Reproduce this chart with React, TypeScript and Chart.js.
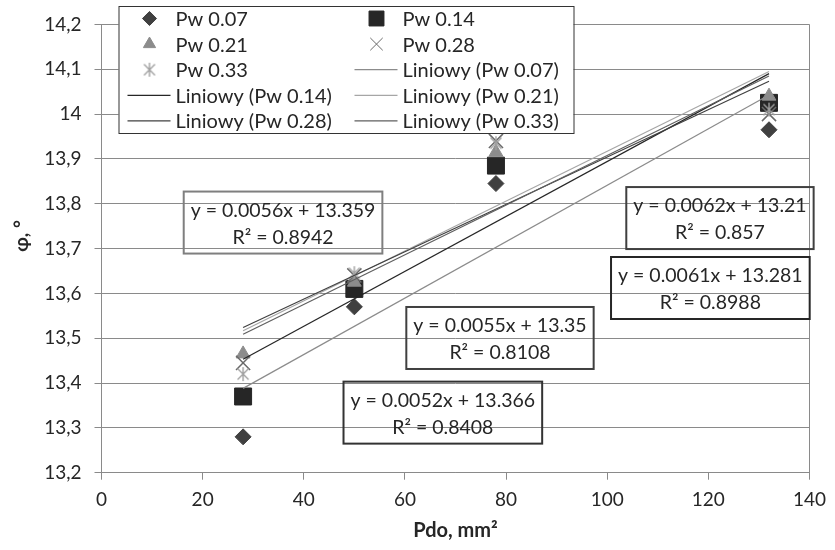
import React, { useEffect, useRef } from 'react';
import { Chart, registerables } from 'chart.js';
import { drawPoint } from 'chart.js/helpers';

Chart.register(...registerables);

// ---- data ----
const xValues = [28, 50, 78, 132];
const seriesLabels = ['Pw 0.07', 'Pw 0.14', 'Pw 0.21', 'Pw 0.28', 'Pw 0.33'];
const pw007 = [13.28, 13.57, 13.845, 13.965];
const pw014 = [13.37, 13.61, 13.885, 14.025];
const pw021 = [13.465, 13.625, 13.915, 14.04];
const pw028 = [13.445, 13.64, 13.94, 14.0];
const pw033 = [13.42, 13.645, 13.935, 14.01];
const seriesValues = [pw007, pw014, pw021, pw028, pw033];

const equationTexts = [
  'y = 0.0062x + 13.21',
  'y = 0.0061x + 13.281',
  'y = 0.0056x + 13.359',
  'y = 0.0052x + 13.366',
  'y = 0.0055x + 13.35',
];
const r2Texts = ['R² = 0.857', 'R² = 0.8988', 'R² = 0.8942', 'R² = 0.8408', 'R² = 0.8108'];

const xTitle = 'Pdo, mm²';
const yTitle = 'φ, °';

// ---- styles / layout ----
const FONT = 'Lato, "Noto Sans", sans-serif';
const TEXT_COLOR = '#262626';
const GRID_COLOR = '#8a8a8a';
const markerStyles = [
  { pointStyle: 'rectRot', radius: 8, bg: '#404040', border: '#404040', bw: 1 },
  { pointStyle: 'rect', radius: 12, bg: '#262626', border: '#262626', bw: 1 },
  { pointStyle: 'triangle', radius: 8, bg: '#8c8c8c', border: '#8c8c8c', bw: 1 },
  { pointStyle: 'crossRot', radius: 10, bg: '#6a6a6a', border: '#6a6a6a', bw: 1.5 },
  { pointStyle: 'asterisk', radius: 8, bg: '#a6a6a6', border: '#a6a6a6', bw: 1.5 },
];
const trendColors = ['#8c8c8c', '#262626', '#a6a6a6', '#404040', '#5f5f5f'];
// equation box centres in data units, and border colours
const eqPositions = [
  [122.3, 13.768],
  [120.4, 13.612],
  [35.9, 13.758],
  [67.5, 13.334],
  [78.8, 13.5005],
];
const eqBorders = ['#404040', '#262626', '#7f7f7f', '#333333', '#404040'];

function makeAsterisk(color: string) {
  const c = document.createElement('canvas');
  c.width = 16;
  c.height = 16;
  const g = c.getContext('2d')!;
  g.strokeStyle = color;
  g.lineWidth = 1.4;
  g.beginPath();
  g.moveTo(2.5, 2.5); g.lineTo(13.5, 13.5);
  g.moveTo(13.5, 2.5); g.lineTo(2.5, 13.5);
  g.moveTo(8, 1); g.lineTo(8, 15);
  g.stroke();
  return c;
}

function regression(xs: number[], ys: number[]) {
  const n = xs.length;
  const mx = xs.reduce((a, b) => a + b, 0) / n;
  const my = ys.reduce((a, b) => a + b, 0) / n;
  let sxy = 0, sxx = 0;
  for (let i = 0; i < n; i++) {
    sxy += (xs[i] - mx) * (ys[i] - my);
    sxx += (xs[i] - mx) * (xs[i] - mx);
  }
  const b = sxy / sxx;
  return { a: my - b * mx, b };
}

const overlayPlugin = {
  id: 'overlay',
  afterDatasetsDraw(chart: any) {
    const { ctx, scales } = chart;
    const xs = scales.x, ys = scales.y;
    ctx.save();
    ctx.font = `19.5px ${FONT}`;
    ctx.textAlign = 'center';
    ctx.textBaseline = 'middle';
    for (let i = 0; i < equationTexts.length; i++) {
      const cx = xs.getPixelForValue(eqPositions[i][0]);
      const cy = ys.getPixelForValue(eqPositions[i][1]);
      const w = Math.max(ctx.measureText(equationTexts[i]).width, ctx.measureText(r2Texts[i]).width) + 14;
      const h = 62;
      ctx.strokeStyle = eqBorders[i];
      ctx.lineWidth = 2;
      ctx.strokeRect(cx - w / 2, cy - h / 2, w, h);
      ctx.fillStyle = TEXT_COLOR;
      ctx.fillText(equationTexts[i], cx, cy - 12);
      ctx.fillText(r2Texts[i], cx, cy + 15);
    }
    ctx.restore();
  },
  afterDraw(chart: any) {
    const { ctx, chartArea } = chart;
    ctx.save();
    // y title
    ctx.font = `bold 19px ${FONT}`;
    ctx.fillStyle = TEXT_COLOR;
    ctx.textAlign = 'center';
    ctx.textBaseline = 'middle';
    ctx.translate(22, 236);
    ctx.rotate(-Math.PI / 2);
    ctx.fillText(yTitle, 0, 0);
    ctx.restore();

    // legend
    ctx.save();
    const lx = chartArea.left + 17, ly = 6, lw = 455, lh = 127;
    ctx.fillStyle = '#ffffff';
    ctx.fillRect(lx, ly, lw, lh);
    ctx.strokeStyle = '#333333';
    ctx.lineWidth = 1;
    ctx.strokeRect(lx + 0.5, ly + 0.5, lw, lh);
    ctx.font = `20px ${FONT}`;
    ctx.textBaseline = 'middle';
    ctx.textAlign = 'left';
    chart.data.datasets.forEach((ds: any, i: number) => {
      const col = i % 2, row = Math.floor(i / 2);
      const baseX = lx + col * 227;
      const cy = ly + 12.5 + row * 25.6;
      if (ds.showLine) {
        ctx.strokeStyle = ds.borderColor;
        ctx.lineWidth = 1.2;
        ctx.beginPath();
        ctx.moveTo(baseX + 9, cy);
        ctx.lineTo(baseX + 52, cy);
        ctx.stroke();
      } else {
        ctx.fillStyle = ds.backgroundColor;
        ctx.strokeStyle = ds.borderColor;
        drawPoint(ctx, {
          pointStyle: ds.pointStyle,
          radius: ds.pointRadius * 0.88,
          rotation: 0,
          borderWidth: ds.borderWidth,
        } as any, baseX + 31, cy);
      }
      ctx.fillStyle = TEXT_COLOR;
      ctx.fillText(ds.label, baseX + 57, cy + 1);
    });
    ctx.restore();
  },
};

export default function App() {
  const ref = useRef<HTMLCanvasElement | null>(null);
  useEffect(() => {
    document.body.style.margin = '0';
    const canvas = ref.current!;
    const asterisk = makeAsterisk('#a0a0a0');
    const scatterSets = seriesLabels.map((label, i) => {
      const m = markerStyles[i];
      return {
        label,
        data: xValues.map((x, j) => ({ x, y: seriesValues[i][j] })),
        pointStyle: m.pointStyle === 'asterisk' ? asterisk : m.pointStyle,
        pointRadius: m.radius,
        pointHoverRadius: m.radius,
        backgroundColor: m.bg,
        borderColor: m.border,
        borderWidth: m.bw,
        pointBorderWidth: m.bw,
        showLine: false,
        order: 10 - i,
      };
    });
    const trendSets = seriesLabels.map((label, i) => {
      const { a, b } = regression(xValues, seriesValues[i]);
      const x0 = xValues[0], x1 = xValues[xValues.length - 1];
      return {
        label: `Liniowy (${label})`,
        data: [{ x: x0, y: a + b * x0 }, { x: x1, y: a + b * x1 }],
        showLine: true,
        borderColor: trendColors[i],
        backgroundColor: trendColors[i],
        borderWidth: 1.2,
        pointRadius: 0,
        order: 5 - i,
      };
    });
    const chart = new Chart(canvas, {
      type: 'scatter',
      data: { datasets: [...scatterSets, ...trendSets] as any },
      options: {
        animation: false,
        responsive: false,
        devicePixelRatio: 1,
        layout: { padding: { top: 19.5, right: 18, left: 0, bottom: 0 } },
        plugins: { legend: { display: false }, tooltip: { enabled: false } },
        scales: {
          x: {
            type: 'linear',
            min: 0,
            max: 140,
            afterFit: (s: any) => { s.height = 77.3; },
            ticks: { stepSize: 20, color: TEXT_COLOR, font: { family: FONT, size: 19 }, padding: 9, maxRotation: 0 },
            grid: {
              color: (c: any) => (c.tick && c.tick.value === 140 ? GRID_COLOR : 'rgba(0,0,0,0)'),
              tickColor: GRID_COLOR,
              tickLength: 7,
            },
            border: { display: true, color: GRID_COLOR },
            title: {
              display: true,
              text: xTitle,
              color: TEXT_COLOR,
              font: { family: FONT, size: 20, weight: 'bold' },
              padding: { top: 0, bottom: 7 },
            },
          },
          y: {
            type: 'linear',
            min: 13.2,
            max: 14.2,
            afterFit: (s: any) => { s.width = 101.5; },
            ticks: {
              stepSize: 0.1,
              color: TEXT_COLOR,
              font: { family: FONT, size: 19 },
              padding: 13,
              callback: (v: any) => String(Math.round(Number(v) * 10) / 10).replace('.', ','),
            },
            grid: { color: GRID_COLOR, tickColor: GRID_COLOR, tickLength: 7 },
            border: { display: true, color: GRID_COLOR },
          },
        },
      } as any,
      plugins: [overlayPlugin],
    });
    return () => chart.destroy();
  }, []);
  return <canvas ref={ref} width={835} height={550} style={{ display: 'block' }} />;
}
